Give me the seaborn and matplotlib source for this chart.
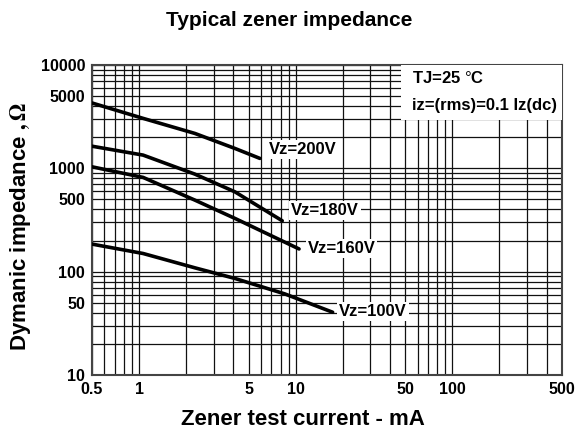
import numpy as np
import pandas as pd
import seaborn as sns
import matplotlib.pyplot as plt
from matplotlib.ticker import LogLocator, FixedLocator, NullFormatter
from matplotlib.patches import Rectangle

# values (current in mA, impedance in ohm)
cur_200 = [0.5, 1.06, 2.27, 4.09, 5.9]
imp_200 = [4300, 3050, 2180, 1560, 1250]
cur_180 = [0.5, 1.06, 2.27, 4.09, 8.2]
imp_180 = [1640, 1345, 880, 593, 311]
cur_160 = [0.5, 1.06, 2.27, 4.09, 10.5]
imp_160 = [1036, 818, 493, 328, 166]
cur_100 = [0.5, 1.06, 2.27, 4.09, 8.5, 17.2]
imp_100 = [185, 150, 109, 86, 61, 40.5]

xticks = [0.5, 1, 5, 10, 50, 100, 500]
yticks = [10, 50, 100, 500, 1000, 5000, 10000]

frames = []
for name, c, z in [("Vz=200V", cur_200, imp_200), ("Vz=180V", cur_180, imp_180),
                   ("Vz=160V", cur_160, imp_160), ("Vz=100V", cur_100, imp_100)]:
    frames.append(pd.DataFrame({"current": c, "impedance": z, "vz": name}))
df = pd.concat(frames, ignore_index=True)

sns.set_style("white")
plt.rcParams['font.family'] = ['Liberation Sans', 'DejaVu Sans']
plt.rcParams['font.weight'] = 'bold'
plt.rcParams['mathtext.fontset'] = 'stix'
for k in ['text.color', 'axes.labelcolor', 'xtick.color', 'ytick.color']:
    plt.rcParams[k] = 'black'

fig = plt.figure(figsize=(5.84, 4.34), dpi=100)
ax = fig.add_axes([0.1575, 0.136, 0.8045, 0.714])

sns.lineplot(data=df, x="current", y="impedance", hue="vz", sort=False,
             palette=["black"] * 4, linewidth=2.6, legend=False, ax=ax, zorder=4)

ax.set_xscale("log")
ax.set_yscale("log")
ax.set_xlim(0.5, 500)
ax.set_ylim(10, 10000)
ax.xaxis.set_major_locator(FixedLocator(xticks))
ax.yaxis.set_major_locator(FixedLocator(yticks))
ax.set_xticklabels([str(v) for v in xticks])
ax.set_yticklabels([str(v) for v in yticks])
ax.xaxis.set_minor_locator(LogLocator(base=10, subs=np.arange(1, 10)))
ax.yaxis.set_minor_locator(LogLocator(base=10, subs=np.arange(1, 10)))
ax.xaxis.set_minor_formatter(NullFormatter())
ax.yaxis.set_minor_formatter(NullFormatter())
ax.tick_params(which="both", length=0, labelsize=11.5, pad=5, colors="black")
for lab in ax.get_xticklabels() + ax.get_yticklabels():
    lab.set_fontweight("bold")

ax.grid(which="both", color="#111111", linewidth=0.9)
ax.set_axisbelow(True)
for s in ax.spines.values():
    s.set_color("#444444")
    s.set_linewidth(1.5)

# white box for the conditions note
ax.add_patch(Rectangle((0.658, 0.823), 0.342, 0.177, transform=ax.transAxes,
                       facecolor="white", edgecolor="none", zorder=3))
ax.text(0.681, 0.957, "TJ=25 $\\degree$C", transform=ax.transAxes, fontsize=12,
        fontweight="bold", va="center", ha="left", zorder=5)
ax.text(0.681, 0.871, "iz=(rms)=0.1 Iz(dc)", transform=ax.transAxes, fontsize=12,
        fontweight="bold", va="center", ha="left", zorder=5)

box = dict(facecolor="white", edgecolor="none", pad=1.5)
ax.text(11.1, 1540, "Vz=200V", fontsize=12, fontweight="bold", ha="center", va="center", bbox=box, zorder=5)
ax.text(15.3, 395, "Vz=180V", fontsize=12, fontweight="bold", ha="center", va="center", bbox=box, zorder=5)
ax.text(19.6, 168, "Vz=160V", fontsize=12, fontweight="bold", ha="center", va="center", bbox=box, zorder=5)
ax.text(31.1, 41, "Vz=100V", fontsize=12, fontweight="bold", ha="center", va="center", bbox=box, zorder=5)

ax.set_xlabel("Zener test current - mA", fontsize=16, fontweight="bold")
ax.xaxis.label.set_va("center")
ax.xaxis.set_label_coords(0.449, -0.145)
ax.set_ylabel("Dymanic impedance $,\\mathit{\\Omega}$", fontsize=16, fontweight="bold")
ax.yaxis.set_label_coords(-0.125, 0.48)
fig.suptitle("Typical zener impedance", x=0.495, y=0.975, fontsize=15, fontweight="bold")

fig.savefig("out.png", dpi=100)
